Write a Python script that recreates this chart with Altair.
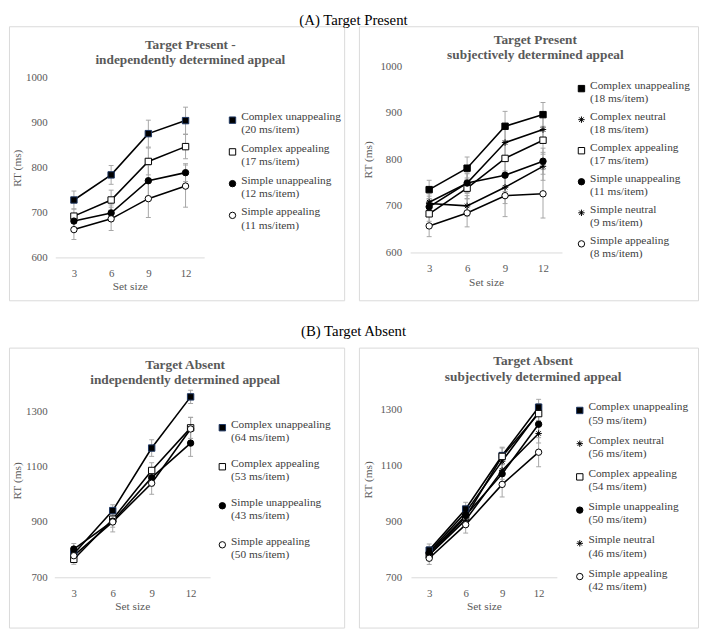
import altair as alt
import pandas as pd

SERIF = "Liberation Serif"
SET_SIZES = [3, 6, 9, 12]

NAMES = {"CU": "Complex unappealing", "CN": "Complex neutral", "CA": "Complex appealing",
         "SU": "Simple unappealing", "SN": "Simple neutral", "SA": "Simple appealing"}
ASTER = "M-1,0L1,0M0,-1L0,1M-0.7,-0.7L0.7,0.7M-0.7,0.7L0.7,-0.7"
SHAPES = {"CU": "square", "CN": ASTER, "CA": "square", "SU": "circle", "SN": ASTER, "SA": "circle"}
FILLS = {"CU": "black", "CN": "black", "CA": "white", "SU": "black", "SN": "black", "SA": "white"}

# ---- (A) Target Present, independently determined appeal ----
P1_SERIES = ["CU", "CA", "SU", "SA"]
P1_SLOPES = [20, 17, 12, 11]
P1_CU = [728, 784, 876, 905]
P1_CA = [692, 728, 814, 847]
P1_SU = [681, 699, 771, 789]
P1_SA = [662, 686, 731, 759]
P1_CU_E = [20, 21, 30, 30]
P1_CA_E = [16, 22, 30, 27]
P1_SU_E = [15, 18, 35, 20]
P1_SA_E = [22, 26, 42, 47]

# ---- (A) Target Present, subjectively determined appeal ----
P2_SERIES = ["CU", "CN", "CA", "SU", "SN", "SA"]
P2_SLOPES = [18, 18, 17, 11, 9, 8]
P2_CU = [735, 781, 871, 896]
P2_CN = [708, 749, 836, 864]
P2_CA = [683, 738, 802, 841]
P2_SU = [698, 749, 766, 796]
P2_SN = [705, 700, 740, 785]
P2_SA = [657, 685, 722, 726]
P2_CU_E = [20, 24, 32, 26]
P2_CN_E = [18, 22, 30, 28]
P2_CA_E = [16, 22, 35, 30]
P2_SU_E = [18, 20, 35, 28]
P2_SN_E = [16, 22, 35, 30]
P2_SA_E = [23, 30, 45, 52]

# ---- (B) Target Absent, independently determined appeal ----
P3_SERIES = ["CU", "CA", "SU", "SA"]
P3_SLOPES = [64, 53, 43, 50]
P3_CU = [785, 941, 1167, 1352]
P3_CA = [765, 910, 1086, 1240]
P3_SU = [802, 903, 1060, 1185]
P3_SA = [778, 900, 1040, 1236]
P3_CU_E = [20, 21, 30, 24]
P3_CA_E = [18, 20, 28, 38]
P3_SU_E = [20, 22, 30, 48]
P3_SA_E = [22, 36, 40, 42]

# ---- (B) Target Absent, subjectively determined appeal ----
P4_SERIES = ["CU", "CN", "CA", "SU", "SN", "SA"]
P4_SLOPES = [59, 56, 54, 50, 46, 42]
P4_CU = [797, 944, 1135, 1308]
P4_CN = [790, 932, 1115, 1290]
P4_CA = [780, 915, 1132, 1285]
P4_SU = [786, 921, 1070, 1247]
P4_SN = [780, 905, 1082, 1214]
P4_SA = [768, 888, 1032, 1147]
P4_CU_E = [22, 24, 30, 28]
P4_CN_E = [20, 22, 28, 30]
P4_CA_E = [20, 22, 30, 32]
P4_SU_E = [20, 24, 35, 35]
P4_SN_E = [18, 22, 32, 34]
P4_SA_E = [22, 30, 45, 52]


def make_df(series, rts, errs, slopes):
    rows = []
    labels = []
    for code, rt, er, sl in zip(series, rts, errs, slopes):
        label = f"{NAMES[code]}|({sl} ms/item)"
        labels.append(label)
        for s, v, e in zip(SET_SIZES, rt, er):
            rows.append({"size": s, "series": label, "rt": v, "lo": v - e, "hi": v + e})
    return pd.DataFrame(rows), labels


GRAY = "#595959"


def panel(df, series, labels, title_lines, W, H, x_range, y_dom, y_rng, y_vals,
          x_off, y_off, y_tpad, leg_x, leg_y, row_pad, t_dx, t_off, cu_stroke):
    xaxis = alt.Axis(offset=x_off, labelAngle=0, ticks=False, tickSize=0, grid=False,
                     domainColor="#d9d9d9", domainWidth=1, labelColor=GRAY, labelFont=SERIF,
                     labelFontSize=11, labelPadding=10, titleFont=SERIF, titleFontSize=11.5,
                     titleFontWeight="normal", titleColor=GRAY, titlePadding=3)
    yaxis = alt.Axis(offset=y_off, values=y_vals, format="d", domain=False, ticks=False,
                     tickSize=0, grid=False,
                     labelColor=GRAY, labelFont=SERIF, labelFontSize=11, labelPadding=6,
                     titleFont=SERIF, titleFontSize=11.5, titleFontWeight="normal",
                     titleColor=GRAY, titlePadding=y_tpad)
    xscale = alt.Scale(type="point", padding=0.5, range=x_range)
    yscale = alt.Scale(domain=y_dom, range=y_rng, nice=False, zero=False)
    xenc = alt.X("size:O", sort=SET_SIZES, scale=xscale, axis=xaxis, title="Set size")

    def yenc(f):
        return alt.Y(f"{f}:Q", scale=yscale, axis=yaxis, title="RT (ms)")

    legend = alt.Legend(orient="none", legendX=leg_x, legendY=leg_y, title=None,
                        labelExpr="split(datum.label, '|')", labelFont=SERIF,
                        labelFontSize=11.5, labelColor="#404040", labelBaseline="alphabetic",
                        labelLimit=300, labelOffset=3, symbolSize=42, symbolStrokeWidth=1,
                        rowPadding=row_pad, padding=0, symbolOpacity=1, offset=0)
    strokes = [cu_stroke if c == "CU" else "black" for c in series]

    base = alt.Chart(df)
    err = base.mark_rule(color="#a6a6a6", strokeWidth=1).encode(
        x=xenc, y=yenc("lo"), y2="hi:Q")
    cap_lo = base.mark_tick(color="#a6a6a6", thickness=1, size=5, opacity=1).encode(
        x=xenc, y=yenc("lo"))
    cap_hi = base.mark_tick(color="#a6a6a6", thickness=1, size=5, opacity=1).encode(
        x=xenc, y=yenc("hi"))
    lines = base.mark_line(color="black", strokeWidth=1.6).encode(
        x=xenc, y=yenc("rt"), detail="series:N")
    pts = base.mark_point(filled=True, opacity=1, size=42, strokeWidth=1).encode(
        x=xenc, y=yenc("rt"),
        shape=alt.Shape("series:N", scale=alt.Scale(domain=labels, range=[SHAPES[c] for c in series]),
                        legend=legend),
        fill=alt.Fill("series:N", scale=alt.Scale(domain=labels, range=[FILLS[c] for c in series]),
                      legend=legend),
        stroke=alt.Stroke("series:N", scale=alt.Scale(domain=labels, range=strokes), legend=legend),
    )
    return alt.layer(err, cap_lo, cap_hi, lines, pts).properties(
        width=W, height=H,
        title=alt.Title(title_lines, font=SERIF, fontSize=13.5, fontWeight="bold", color=GRAY,
                        anchor="middle", frame="group", baseline="top", lineHeight=15.5,
                        offset=t_off, dx=t_dx),
    )


df1, lab1 = make_df(P1_SERIES, [P1_CU, P1_CA, P1_SU, P1_SA],
                    [P1_CU_E, P1_CA_E, P1_SU_E, P1_SA_E], P1_SLOPES)
df2, lab2 = make_df(P2_SERIES, [P2_CU, P2_CN, P2_CA, P2_SU, P2_SN, P2_SA],
                    [P2_CU_E, P2_CN_E, P2_CA_E, P2_SU_E, P2_SN_E, P2_SA_E], P2_SLOPES)
df3, lab3 = make_df(P3_SERIES, [P3_CU, P3_CA, P3_SU, P3_SA],
                    [P3_CU_E, P3_CA_E, P3_SU_E, P3_SA_E], P3_SLOPES)
df4, lab4 = make_df(P4_SERIES, [P4_CU, P4_CN, P4_CA, P4_SU, P4_SN, P4_SA],
                    [P4_CU_E, P4_CN_E, P4_CA_E, P4_SU_E, P4_SN_E, P4_SA_E], P4_SLOPES)

p1 = panel(df1, P1_SERIES, lab1, ["Target Present -", "independently determined appeal"],
           340, 278, [47, 198], [600, 1000], [234.5, 52.5], [600, 700, 800, 900, 1000],
           -43.5, -44.7, 3, 221, 89.5, 6.2, 14, -41.3, "#1f3864")
p2 = panel(df2, P2_SERIES, lab2, ["Target Present", "subjectively determined appeal"],
           344, 278, [52, 206], [600, 1000], [229.5, 40.5], [600, 700, 800, 900, 1000],
           -48.5, -49.3, 7, 220, 57.5, 5.5, 7, -35.6, "black")
p3 = panel(df3, P3_SERIES, lab3, ["Target Absent", "independently determined appeal"],
           340, 284, [46, 204], [700, 1400], [233, 36.5], [700, 900, 1100, 1300],
           -51, -44.7, 3, 210.7, 75.5, 13.6, 8.7, -39.3, "#1f3864")
p4 = panel(df4, P4_SERIES, lab4, ["Target Absent", "subjectively determined appeal"],
           344, 284, [52.8, 200.8], [700, 1400], [233, 34.3], [700, 900, 1100, 1300],
           -51, -49.3, 7, 218.3, 58, 7.7, 4.7, -36, "#1f3864")

RES = dict(x="independent", y="independent", shape="independent", fill="independent",
           stroke="independent")
LRES = dict(shape="independent", fill="independent", stroke="independent")

rowA = alt.hconcat(p1, p2, spacing=13).resolve_scale(**RES).resolve_legend(**LRES).properties(
    title=alt.Title("(A) Target Present", font=SERIF, fontSize=15, fontWeight="normal",
                    color="black", anchor="middle", offset=-2))
rowB = alt.hconcat(p3, p4, spacing=13).resolve_scale(**RES).resolve_legend(**LRES).properties(
    title=alt.Title("(B) Target Absent", font=SERIF, fontSize=15, fontWeight="normal",
                    color="black", anchor="middle", offset=8))

chart = alt.vconcat(rowA, rowB, spacing=23).resolve_scale(**RES).resolve_legend(**LRES).properties(
    padding=0).configure(font=SERIF).configure_view(
    stroke="#d9d9d9", strokeWidth=1).configure_axis(
    labelFont=SERIF, titleFont=SERIF).configure_legend(labelFont=SERIF)

chart.save("out.html", embed_options={"renderer": "svg", "actions": False})
